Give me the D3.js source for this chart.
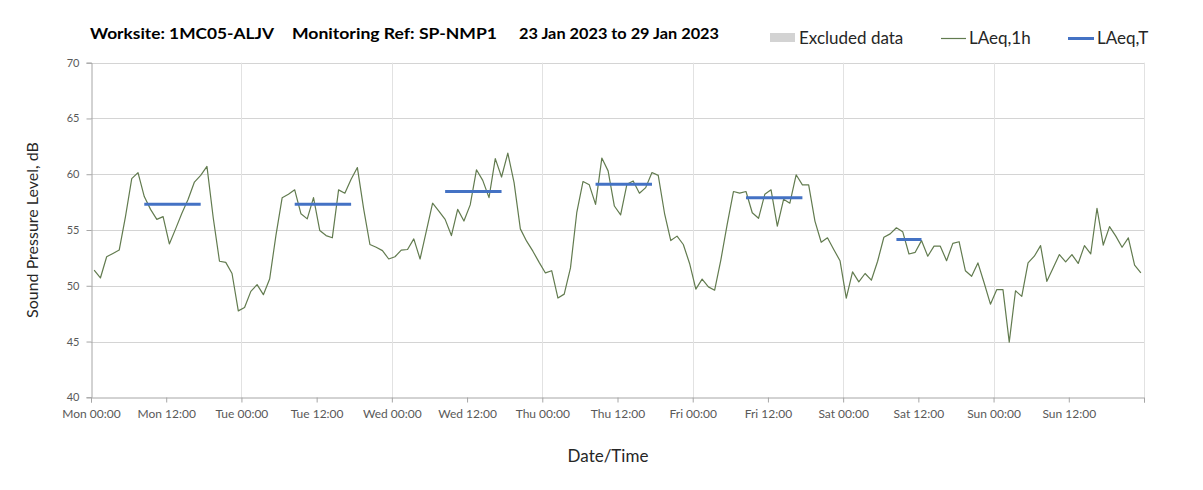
<!DOCTYPE html>
<html>
<head>
<meta charset="utf-8">
<script src="https://cdn.jsdelivr.net/npm/d3@7"></script>
<style>
  html, body { margin: 0; padding: 0; background: #ffffff; }
  svg { display: block; }
  text { font-family: Lato, "Open Sans", sans-serif; }
</style>
</head>
<body>
<div id="chart"></div>
<script>
// ---------- DATA ----------
const titleParts = ["Worksite: 1MC05-ALJV", "Monitoring Ref: SP-NMP1", "23 Jan 2023 to 29 Jan 2023"];
const dayNames = ["Mon", "Tue", "Wed", "Thu", "Fri", "Sat", "Sun"];
const tickLabels = ["Mon 00:00","Mon 12:00","Tue 00:00","Tue 12:00","Wed 00:00","Wed 12:00",
  "Thu 00:00","Thu 12:00","Fri 00:00","Fri 12:00","Sat 00:00","Sat 12:00","Sun 00:00","Sun 12:00"];
const yTicks = [40, 45, 50, 55, 60, 65, 70];

// LAeq,1h hourly values (hour 0 = Mon 00:00)
const laeq1h = [
  51.4, 50.7, 52.6, 52.9, 53.2, 56.2, 59.6, 60.15, 58.0, 56.85, 55.95, 56.2, 53.75, 55.1, 56.5, 57.75, 59.3, 59.9, 60.7, 56.1, 52.2, 52.1, 51.1, 47.75,
  48.05, 49.5, 50.1, 49.2, 50.6, 54.5, 57.9, 58.2, 58.6, 56.45, 56.0, 57.9, 54.95, 54.5, 54.3, 58.6, 58.3, 59.55, 60.6, 56.9, 53.7, 53.45, 53.15, 52.4,
  52.6, 53.2, 53.25, 54.2, 52.4, 54.9, 57.4, 56.7, 55.95, 54.5, 56.85, 55.8, 57.25, 60.4, 59.45, 57.9, 61.4, 59.75, 61.9, 59.25, 55.1, 54.0, 53.1, 52.1,
  51.15, 51.35, 48.9, 49.25, 51.6, 56.55, 59.35, 59.05, 57.3, 61.45, 60.3, 57.15, 56.35, 59.1, 59.4, 58.3, 58.8, 60.15, 59.9, 56.5, 54.05, 54.45, 53.7, 52.0,
  49.7, 50.6, 49.9, 49.6, 52.35, 55.5, 58.45, 58.3, 58.45, 56.55, 56.05, 58.2, 58.6, 55.35, 57.75, 57.4, 59.95, 59.05, 59.05, 55.8, 53.9, 54.3, 53.25, 52.25,
  48.9, 51.25, 50.35, 51.1, 50.5, 52.2, 54.35, 54.65, 55.2, 54.85, 52.85, 53.0, 54.05, 52.65, 53.55, 53.55, 52.25, 53.8, 53.95, 51.35, 50.85, 52.05, 50.25, 48.35,
  49.65, 49.65, 44.95, 49.55, 49.05, 52.05, 52.65, 53.6, 50.4, 51.6, 52.8, 52.15, 52.8, 52.0, 53.6, 52.85, 56.95, 53.65, 55.3, 54.45, 53.45, 54.3, 51.85, 51.15
];

// LAeq,T period averages (first and last hour index of each period)
const periodStartHour = [8, 32, 56, 80, 104, 128];
const periodEndHour   = [17, 41, 65, 89, 113, 132];
const periodLAeqT     = [57.3, 57.3, 58.45, 59.1, 57.9, 54.15];

const legendLabels = ["Excluded data", "LAeq,1h", "LAeq,T"];

// ---------- LAYOUT ----------
const W = 1203, H = 490;
const plot = { left: 91, right: 1144, top: 62.7, bottom: 397.3 };
const nHours = dayNames.length * 24;

const svg = d3.select("#chart").append("svg")
  .attr("width", W).attr("height", H);

const x = d3.scaleLinear().domain([0, nHours]).range([plot.left, plot.right]);
const y = d3.scaleLinear().domain([40, 70]).range([plot.bottom, plot.top]);

const green = "#627b4f";
const blue = "#4472c4";

// Horizontal gridlines
svg.append("g")
  .selectAll("line").data(yTicks.filter(v => v > 40)).enter().append("line")
  .attr("x1", plot.left).attr("x2", plot.right)
  .attr("y1", d => Math.round(y(d)) + 0.5).attr("y2", d => Math.round(y(d)) + 0.5)
  .attr("stroke", "#d4d4d4").attr("stroke-width", 1);

// Vertical gridlines (each day boundary)
const dayTicks = d3.range(24, nHours + 1, 24);
svg.append("g")
  .selectAll("line").data(dayTicks).enter().append("line")
  .attr("x1", d => Math.round(x(d)) + 0.5).attr("x2", d => Math.round(x(d)) + 0.5)
  .attr("y1", plot.top).attr("y2", plot.bottom)
  .attr("stroke", "#e2e2e2").attr("stroke-width", 1);

// Y axis
const yAxis = d3.axisLeft(y).tickValues(yTicks).tickSize(5).tickPadding(7)
  .tickFormat(d3.format("d"));
const gy = svg.append("g")
  .attr("transform", `translate(${Math.round(plot.left) + 0.5},0)`)
  .call(yAxis);
gy.select(".domain").attr("stroke", "#a6a6a6");
gy.selectAll(".tick line").attr("stroke", "#a6a6a6");
gy.selectAll(".tick text").attr("fill", "#595959")
  .style("font-size", "11px").style("font-family", "Lato, sans-serif");

// X axis
const xTickVals = d3.range(0, nHours + 1, 12);
const xAxis = d3.axisBottom(x).tickValues(xTickVals).tickSize(5).tickPadding(7)
  .tickFormat((d, i) => tickLabels[i] || "");
const gx = svg.append("g")
  .attr("transform", `translate(0,${Math.round(plot.bottom) + 0.5})`)
  .call(xAxis);
gx.select(".domain").attr("stroke", "#a6a6a6");
gx.selectAll(".tick line").attr("stroke", "#a6a6a6");
gx.selectAll(".tick text").attr("fill", "#595959")
  .style("font-size", "12px").style("font-family", "Lato, sans-serif");

// LAeq,1h line (points at hour centres)
const line = d3.line()
  .x((d, i) => x(i + 0.5))
  .y(d => y(d));
svg.append("path")
  .datum(laeq1h)
  .attr("fill", "none")
  .attr("stroke", green)
  .attr("stroke-width", 1.2)
  .attr("stroke-linejoin", "round")
  .attr("d", line);

// LAeq,T segments
svg.append("g")
  .selectAll("line").data(periodLAeqT).enter().append("line")
  .attr("x1", (d, i) => x(periodStartHour[i] + 0.5))
  .attr("x2", (d, i) => x(periodEndHour[i] + 0.5))
  .attr("y1", d => y(d)).attr("y2", d => y(d))
  .attr("stroke", blue).attr("stroke-width", 3);

// Title
const titleX = [90, 292, 519];
const titleW = [184, 205, 200];
svg.append("g")
  .selectAll("text").data(titleParts).enter().append("text")
  .attr("x", (d, i) => titleX[i]).attr("y", 39)
  .attr("textLength", (d, i) => titleW[i])
  .attr("lengthAdjust", "spacingAndGlyphs")
  .attr("fill", "#000")
  .style("font-size", "16px").style("font-weight", "bold")
  .text(d => d);

// Legend
const lg = svg.append("g");
lg.append("rect").attr("x", 770).attr("y", 33).attr("width", 25).attr("height", 9).attr("fill", "#d3d3d3");
lg.append("text").attr("x", 799).attr("y", 44).attr("fill", "#262626").style("font-size", "17px").text(legendLabels[0]);
lg.append("line").attr("x1", 941).attr("x2", 966).attr("y1", 38.5).attr("y2", 38.5).attr("stroke", green).attr("stroke-width", 1.2);
lg.append("text").attr("x", 969).attr("y", 44).attr("fill", "#262626").style("font-size", "17px").text(legendLabels[1]);
lg.append("line").attr("x1", 1068).attr("x2", 1094).attr("y1", 38.5).attr("y2", 38.5).attr("stroke", blue).attr("stroke-width", 3);
lg.append("text").attr("x", 1097).attr("y", 44).attr("fill", "#262626").style("font-size", "17px").text(legendLabels[2]);

// Axis titles
svg.append("text")
  .attr("transform", `translate(38,${(plot.top + plot.bottom) / 2}) rotate(-90)`)
  .attr("text-anchor", "middle").attr("fill", "#262626")
  .style("font-size", "16px")
  .text("Sound Pressure Level, dB");

svg.append("text")
  .attr("x", 608).attr("y", 462)
  .attr("text-anchor", "middle").attr("fill", "#262626")
  .style("font-size", "17px")
  .text("Date/Time");
</script>
</body>
</html>
